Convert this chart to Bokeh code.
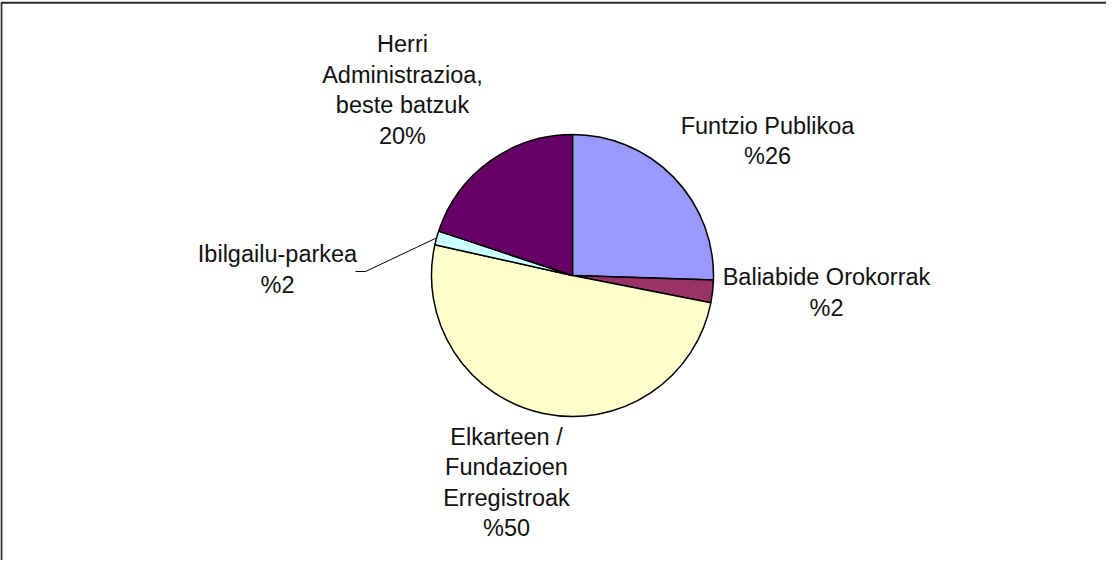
import numpy as np
from bokeh.plotting import figure
from bokeh.models import Range1d, ColumnDataSource
from bokeh.core.properties import value
from bokeh.embed import file_html
from bokeh.resources import INLINE

# ---- data ----
categories = ["Funtzio Publikoa", "Baliabide Orokorrak",
              "Elkarteen / Fundazioen Erregistroak", "Ibilgailu-parkea",
              "Herri Administrazioa, beste batzuk"]
shares = [25.5, 2.6, 50.4, 1.6, 19.9]
label_lines = [
    ["Funtzio Publikoa", "%26"],
    ["Baliabide Orokorrak", "%2"],
    ["Elkarteen /", "Fundazioen", "Erregistroak", "%50"],
    ["Ibilgailu-parkea", "%2"],
    ["Herri", "Administrazioa,", "beste batzuk", "20%"],
]
colors = ["#9999FF", "#993366", "#FFFFCC", "#CCFFFF", "#660066"]

# ---- layout (pixel units, pie centre at origin) ----
CX, CY = 580, 283          # pie centre on page
W, H = 1106, 560
R = 141
label_anchor = [(195, 141.3), (254, -10.3), (-66, -169.7), (-295, 13), (-170, 223)]
LINE_H = 30.5
TEXT_SHIFT = 8.5

p = figure(width=W, height=H, output_backend="svg", toolbar_location=None,
           x_range=Range1d(8 - CX, 8 + W - CX), y_range=Range1d(CY - 8 - H, CY - 8),
           min_border=0, tools="")
p.axis.visible = False
p.grid.visible = False
p.outline_line_color = None
p.background_fill_color = "white"
p.border_fill_color = "white"

vals = np.array(shares, dtype=float)
frac = vals / vals.sum()
cum = np.concatenate([[0], np.cumsum(frac)])
start = np.pi / 2 - cum[:-1] * 2 * np.pi
end = np.pi / 2 - cum[1:] * 2 * np.pi
src = ColumnDataSource(dict(cat=categories, start=start, end=end, color=colors))
p.wedge(x=0, y=0, radius=R, start_angle="start", end_angle="end",
        direction="clock", fill_color="color",
        line_color="black", line_width=1.5, source=src)

# label texts
xs, ys, ts = [], [], []
for (ax, ay), lines in zip(label_anchor, label_lines):
    for i, t in enumerate(lines):
        xs.append(ax)
        ys.append(ay - i * LINE_H + TEXT_SHIFT)
        ts.append(t)
p.text(x=xs, y=ys, text=ts, text_align="center", text_baseline="alphabetic",
       text_font=value("Liberation Sans"), text_font_size="23.5px", text_color="#111111")

# leader line for the small slice on the left
mid = (start[3] + end[3]) / 2
ex, ey = R * np.cos(mid), R * np.sin(mid)
p.line(x=[-217, -207, ex], y=[4, 4, ey], line_color="black", line_width=1)

# chart-area frame (only left and top edges fall inside the window)
p.line(x=[8 - CX + 0.9, 8 - CX + 0.9, 8 + W - CX + 5],
       y=[CY - 8 - H - 5, CY - 10.2, CY - 10.2], line_color="#2b2b2b", line_width=2)

open("out.html", "w").write(file_html(p, INLINE))
